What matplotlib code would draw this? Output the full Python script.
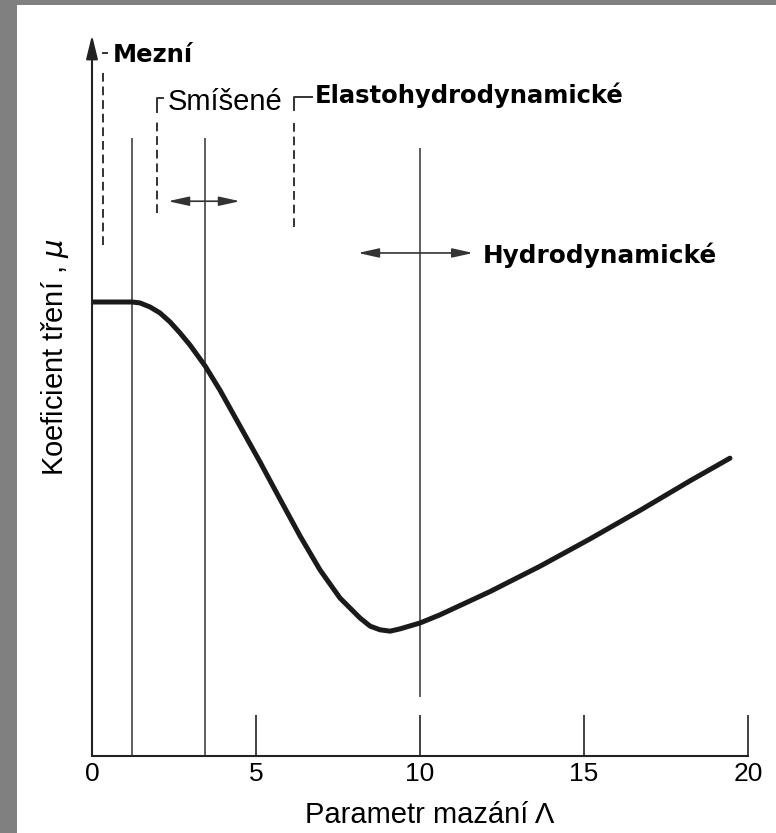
import matplotlib.pyplot as plt
from matplotlib.patches import Rectangle

plt.rcParams['font.family'] = ['Liberation Sans', 'DejaVu Sans']

# friction coefficient vs. lubrication parameter (relative units)
lam = [0, 1.22, 1.46, 1.77, 2.07, 2.38, 2.68, 2.99, 3.45, 3.90, 4.51, 5.12,
       5.73, 6.34, 6.95, 7.56, 8.17, 8.48, 8.78, 9.09, 9.39, 10.0, 10.61,
       12.13, 13.66, 15.18, 16.71, 18.23, 19.45]
mu = [1.0, 1.0, 0.998, 0.989, 0.976, 0.956, 0.932, 0.905, 0.859, 0.806,
      0.727, 0.648, 0.566, 0.485, 0.410, 0.348, 0.304, 0.286, 0.278, 0.275,
      0.280, 0.293, 0.311, 0.362, 0.418, 0.478, 0.541, 0.606, 0.656]

x_ticks = [0, 5, 10, 15, 20]

# regime boundaries
solid_bounds = [1.22, 3.45]
solid_top = 1.361
hydro_bound = 10.0
hydro_span = (0.130, 1.339)
mezni_x, mezni_span = 0.34, (1.126, 1.511)
smisene_x, smisene_span = 1.98, (1.196, 1.449)
ehd_x, ehd_span = 6.16, (1.165, 1.452)

# double arrows (from, to, level)
arrow_mixed = (2.32, 4.51, 1.222)
arrow_hydro = (8.11, 11.62, 1.108)

line_col = '#333333'
dash = (0, (4.5, 2.5))

fig = plt.figure(figsize=(7.76, 8.33), dpi=100)
fig.patch.set_facecolor('#808080')
fig.add_artist(Rectangle((17 / 776, 0), 1, 1 - 5 / 833, transform=fig.transFigure,
                         facecolor='white', edgecolor='none', zorder=-10))

ax = fig.add_axes([92 / 776, 77 / 833, 656 / 776, 721 / 833])
ax.patch.set_visible(False)
ax.set_xlim(0, 20)
ax.set_ylim(0, 721 / 454)

for side in ['top', 'right', 'left']:
    ax.spines[side].set_visible(False)
ax.spines['bottom'].set_linewidth(1.5)
ax.spines['bottom'].set_color('#222222')

ax.set_xticks(x_ticks)
ax.set_yticks([])
ax.tick_params(axis='x', direction='in', length=29.5, width=1.2, color='#222222',
               labelsize=19, pad=4)

# y axis with arrow head
ax.annotate('', xy=(0, 721 / 454), xytext=(0, 0),
            arrowprops=dict(arrowstyle='-|>,head_length=0.9,head_width=0.22',
                            lw=1.5, color='#222222', shrinkA=0, shrinkB=0,
                            mutation_scale=16))

# boundaries
ax.vlines(solid_bounds, 0, solid_top, color=line_col, lw=1.1)
ax.vlines(hydro_bound, *hydro_span, color=line_col, lw=1.1)

ax.plot([mezni_x, mezni_x], mezni_span, color=line_col, lw=1.4, ls=dash)
ax.plot([mezni_x, mezni_x + 0.12], [1.548, 1.548], color=line_col, lw=1.4)

ax.plot([smisene_x + 0.18, smisene_x, smisene_x],
        [smisene_span[1], smisene_span[1], smisene_span[1] - 0.03], color=line_col, lw=1.4)
ax.plot([smisene_x, smisene_x], [smisene_span[0], smisene_span[1] - 0.05],
        color=line_col, lw=1.4, ls=dash)

ax.plot([ehd_x + 0.55, ehd_x, ehd_x],
        [ehd_span[1], ehd_span[1], ehd_span[1] - 0.03], color=line_col, lw=1.4)
ax.plot([ehd_x, ehd_x], [ehd_span[0], ehd_span[1] - 0.05],
        color=line_col, lw=1.4, ls=dash)

for x0, x1, y in [arrow_mixed, arrow_hydro]:
    ax.annotate('', xy=(x0, y), xytext=(x1, y),
                arrowprops=dict(arrowstyle='<|-|>,head_length=0.9,head_width=0.2',
                                lw=1.2, color=line_col, shrinkA=0, shrinkB=0,
                                mutation_scale=14))

# friction curve
ax.plot(lam, mu, color='#1a1a1a', lw=3.6, solid_joinstyle='round', solid_capstyle='round')

# regime labels
bold = dict(fontweight='bold', fontsize=17.5, family='DejaVu Sans', va='center', ha='left')
ax.text(0.64, 1.544, 'Mezní', **bold)
ax.text(2.32, 1.441, 'Smíšené', fontsize=21, va='center', ha='left')
ax.text(6.80, 1.456, 'Elastohydrodynamické', **bold)
ax.text(11.92, 1.104, 'Hydrodynamické', fontsize=17.8,
        **{k: v for k, v in bold.items() if k != 'fontsize'})

ax.set_xlabel('Parametr mazání Λ', fontsize=21)
ax.xaxis.label.set_va('baseline')
ax.xaxis.set_label_coords((430 - 92) / 656, (756 - 823) / 721)

fig.text(55 / 776, 1 - 357 / 833, 'Koeficient tření , $\\mu$', rotation=90,
         va='center', ha='center', fontsize=21)

fig.savefig('out.png', dpi=100)
